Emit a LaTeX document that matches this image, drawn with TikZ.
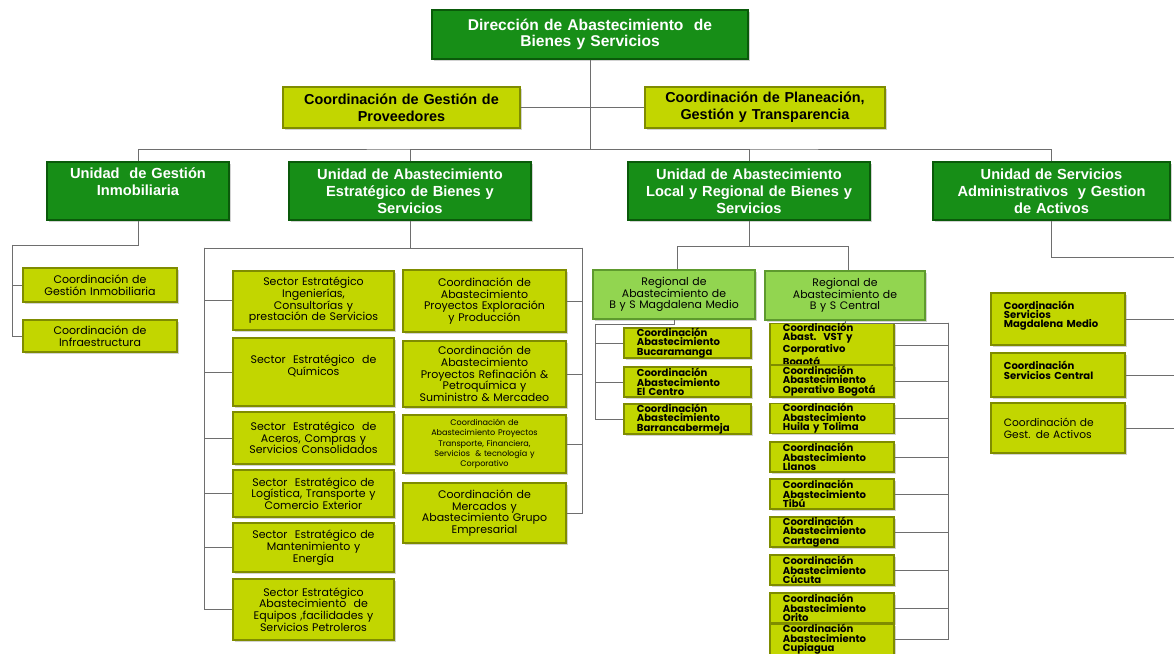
\documentclass[tikz,border=0pt]{standalone}
\usepackage{fontspec}
\setmainfont{Liberation Sans}
\newfontfamily\gothic{Poppins}
\usetikzlibrary{shadows}
\definecolor{dkgreen}{HTML}{178E17}
\definecolor{dkgreenb}{HTML}{0A5A0A}
\definecolor{ygreen}{HTML}{C2D600}
\definecolor{ygreenb}{HTML}{7F8C00}
\definecolor{lgreen}{HTML}{92D550}
\definecolor{lgreenb}{HTML}{5E9A2E}
\definecolor{connc}{HTML}{6E6E6E}
\begin{document}
\begin{tikzpicture}[x=0.03cm,y=-0.03cm,
  box/.style={rectangle, inner sep=0pt, line width=1.1pt,
    drop shadow={shadow xshift=0.05cm,shadow yshift=-0.05cm,opacity=0.35}},
  sz/.code 2 args={\pgfmathsetlengthmacro\bxw{#1*0.03cm}\pgfmathsetlengthmacro\bxh{#2*0.03cm}%
    \pgfmathsetlengthmacro\bxt{#1*0.03cm-6pt}%
    \tikzset{minimum width=\bxw,minimum height=\bxh,text width=\bxt}},
  szl/.code 2 args={\pgfmathsetlengthmacro\bxw{#1*0.03cm}\pgfmathsetlengthmacro\bxh{#2*0.03cm}%
    \pgfmathsetlengthmacro\bxt{#1*0.03cm-22pt}%
    \tikzset{minimum width=\bxw,minimum height=\bxh,text width=\bxt}},
  unit/.style={box, fill=dkgreen, draw=dkgreenb, text=white, align=center,
    font=\bfseries\fontsize{12.5}{14.5}\selectfont},
  coord/.style={box, fill=ygreen, draw=ygreenb, text=black, align=center,
    font=\bfseries\fontsize{12.3}{14.5}\selectfont},
  leaf/.style={box, fill=ygreen, draw=ygreenb, text=black, align=center,
    font=\gothic\fontsize{9.4}{10}\selectfont},
  reg/.style={box, fill=lgreen, draw=lgreenb, text=black, align=center,
    font=\gothic\fontsize{9.3}{10}\selectfont},
  tight/.style={box, fill=ygreen, draw=ygreenb, text=black, align=left,
    font=\gothic\bfseries\fontsize{8.6}{8}\selectfont},
  conn/.style={draw=connc, line width=0.8pt}]
\clip (0,0) rectangle (1174,654);
\fill[white] (0,0) rectangle (1174,654);

% top levels
\node[unit, sz={316}{49}, font=\bfseries\fontsize{13.3}{14}\selectfont] (top) at (590,34.5) {Dirección de Abastecimiento\ \ de\\Bienes y Servicios};
\node[coord, sz={237}{41}] (cgp) at (401.5,107.5) {Coordinación de Gestión de\\Proveedores};
\node[coord, sz={240}{41}] (cpg) at (765,107.5) {Coordinación de Planeación,\\Gestión y Transparencia};

\node[unit, sz={182}{58}] (u1) at (138,191) {Unidad\ \ de Gestión\\Inmobiliaria\\[2pt]\mbox{}};
\node[unit, sz={242}{58}] (u2) at (410,191) {Unidad de Abastecimiento\\Estratégico de Bienes y\\Servicios};
\node[unit, sz={242}{58}] (u3) at (749,191) {Unidad de Abastecimiento\\Local y Regional de Bienes y\\Servicios};
\node[unit, sz={237}{58}] (u4) at (1051.5,191) {Unidad de Servicios\\Administrativos\ \ y Gestion\\de Activos};

% Gestion inmobiliaria children
\node[leaf, sz={154}{34}] (g1) at (100,285) {Coordinación de\\Gestión Inmobiliaria};
\node[leaf, sz={154}{32}] (g2) at (100,336) {Coordinación de\\Infraestructura};

% Estrategico children
\node[leaf, sz={161}{59}] (s1) at (313.5,300.5) {Sector Estratégico\\Ingenierías,\\Consultorías y\\prestación de Servicios};
\node[leaf, sz={161}{68}] (s2) at (313.5,372) {Sector\ \ Estratégico\ \ de\\Químicos\\[2pt]\mbox{}};
\node[leaf, sz={161}{52}] (s3) at (313.5,438) {Sector\ \ Estratégico\ \ de\\Aceros, Compras y\\Servicios Consolidados};
\node[leaf, sz={161}{47}] (s4) at (313.5,493.5) {Sector\ \ Estratégico de\\Logística, Transporte y\\Comercio Exterior};
\node[leaf, sz={161}{49}] (s5) at (313.5,547.5) {Sector\ \ Estratégico de\\Mantenimiento y\\Energía};
\node[leaf, sz={161}{61}] (s6) at (313.5,609.5) {Sector Estratégico\\Abastecimiento\ \ de\\Equipos ,facilidades y\\Servicios Petroleros};

\node[leaf, sz={163}{62}] (r1) at (484.5,301) {Coordinación de\\Abastecimiento\\Proyectos Exploración\\y Producción};
\node[leaf, sz={163}{66}] (r2) at (484.5,374) {Coordinación de\\Abastecimiento\\Proyectos Refinación \&\\Petroquímica y\\Suministro \& Mercadeo};
\node[leaf, sz={163}{58}, font=\gothic\fontsize{6.9}{8.8}\selectfont] (r3) at (484.5,444) {Coordinación de\\Abastecimiento Proyectos\\Transporte, Financiera,\\Servicios\ \ \& tecnología y\\Corporativo};
\node[leaf, sz={163}{60}] (r4) at (484.5,513) {Coordinación de\\Mercados y\\Abastecimiento Grupo\\Empresarial};

% Local y regional children
\node[reg, sz={162}{49}] (m0) at (674,294.5) {Regional de\\Abastecimiento de\\B y S Magdalena Medio};
\node[reg, sz={160}{49}] (c0) at (845,295.5) {Regional de\\Abastecimiento de\\B y S Central};

\node[tight, szl={127}{30}] (m1) at (687.5,343) {Coordinación\\Abastecimiento\\Bucaramanga};
\node[tight, szl={127}{30}] (m2) at (687.5,382) {Coordinación\\Abastecimiento\\El Centro};
\node[tight, szl={127}{30}] (m3) at (687.5,419) {Coordinación\\Abastecimiento\\Barrancabermeja};

\node[tight, szl={124}{35}] (c1) at (832,345.5) {Coordinación\\Abast.\ \ VST y\\Corporativo\\Bogotá};
\node[tight, szl={124}{32}] (c2) at (832,381) {Coordinación\\Abastecimiento\\Operativo Bogotá};
\node[tight, szl={124}{29}] (c3) at (832,418.5) {Coordinación\\Abastecimiento\\Huila y Tolima};
\node[tight, szl={124}{30}] (c4) at (832,457) {Coordinación\\Abastecimiento\\Llanos};
\node[tight, szl={124}{30}] (c5) at (832,494) {Coordinación\\Abastecimiento\\Tibú};
\node[tight, szl={124}{30}] (c6) at (832,532) {Coordinación\\Abastecimiento\\Cartagena};
\node[tight, szl={124}{30}] (c7) at (832,570) {Coordinación\\Abastecimiento\\Cúcuta};
\node[tight, szl={124}{30}] (c8) at (832,608) {Coordinación\\Abastecimiento\\Orito};
\node[tight, szl={124}{29}] (c9) at (832,639.5) {Coordinación\\Abastecimiento\\Cupiagua};

% Servicios children
\node[tight, szl={134}{52}] (v1) at (1058,319) {Coordinación\\Servicios\\Magdalena Medio\\[0pt]\mbox{}};
\node[tight, szl={134}{44}] (v2) at (1058,375) {Coordinación\\Servicios Central\\[0pt]\mbox{}};
\node[leaf, szl={134}{50}, align=left, font=\gothic\fontsize{9.1}{10}\selectfont] (v3) at (1058,428) {Coordinación de\\Gest. de Activos};

% connectors
\coordinate (bus) at (590,149);
\draw[conn] (top.south) -- (bus);
\draw[conn] (cgp.east) -- (cpg.west);
\draw[conn] (u1.north) |- (bus) -| (u4.north);
\draw[conn] (u2.north) |- (bus);
\draw[conn] (u3.north) |- (bus);

\coordinate (gA) at (12,245);
\draw[conn] (u1.south) |- (gA) |- (g2.west);
\draw[conn] (gA) |- (g1.west);

\coordinate (eL) at (204,248);
\coordinate (eR) at (582,248);
\draw[conn] (u2.south) |- (eL) |- (s6.west);
\draw[conn] (u2.south) |- (eR) |- (r4.east);
\foreach \n in {s1,s2,s3,s4,s5} \draw[conn] (eL) |- (\n.west);
\foreach \n in {r1,r2,r3} \draw[conn] (eR) |- (\n.east);

\coordinate (lA) at (677,246);
\coordinate (lB) at (848,246);
\draw[conn] (u3.south) |- (lA) -- (lA |- m0.north);
\draw[conn] (u3.south) |- (lB) -- (lB |- c0.north);

\coordinate (mA) at (595,324);
\draw[conn] (m0.south) |- (mA) |- (m3.west);
\foreach \n in {m1,m2} \draw[conn] (mA) |- (\n.west);

\coordinate (cA) at (948,323);
\draw[conn] (c0.south) |- (cA) |- (c9.east);
\foreach \n in {c1,c2,c3,c4,c5,c6,c7,c8} \draw[conn] (cA) |- (\n.east);

\coordinate (sA) at (1180,257);
\draw[conn] (u4.south) |- (sA) |- (v3.east);
\foreach \n in {v1,v2} \draw[conn] (sA) |- (\n.east);
\end{tikzpicture}
\end{document}
